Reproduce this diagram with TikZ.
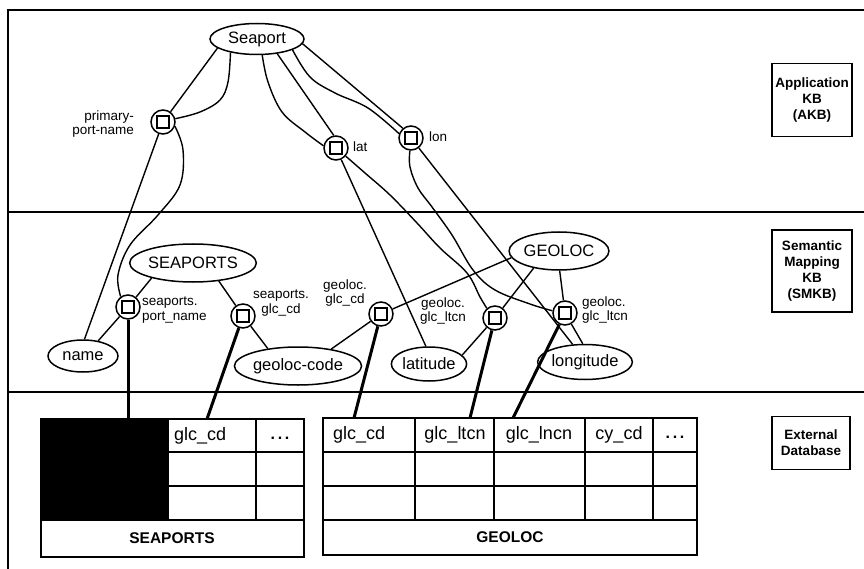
\documentclass[tikz,border=0pt]{standalone}
\usepackage{fontspec}
\setmainfont{Liberation Sans}
\usetikzlibrary{shapes.geometric,calc}
\begin{document}
\begin{tikzpicture}[x=1pt,y=-1pt,
  ent/.style={ellipse,draw,line width=1.5pt,inner sep=0pt,font=\fontsize{16.5}{18}\selectfont},
  junc/.style={circle,draw,line width=1.5pt,minimum size=24pt,inner sep=0pt,
    path picture={\draw[line width=1.5pt] ([shift={(-6pt,-6pt)}]path picture bounding box.center) rectangle ([shift={(6pt,6pt)}]path picture bounding box.center);}},
  lbl/.style={inner sep=0pt,font=\fontsize{13.5}{14.5}\selectfont},
  conn/.style={line width=1.4pt},
  dbl/.style={line width=3pt},
  frame/.style={line width=2.4pt},
  tout/.style={line width=2.6pt},
  tin/.style={line width=1.6pt},
  tthick/.style={line width=2.4pt},
  ttxt/.style={inner sep=0pt,font=\fontsize{18}{20}\selectfont},
  tdots/.style={inner sep=0pt,font=\fontsize{16}{18}\selectfont\bfseries},
  tname/.style={inner sep=0pt,font=\fontsize{15.5}{18}\selectfont\bfseries},
  side/.style={draw,line width=1.2pt,inner sep=0pt,align=center,font=\fontsize{13.5}{16}\selectfont\bfseries}
]
\useasboundingbox (0,0) rectangle (864,569);
% frame and layer dividers
\draw[frame] (864,10) -- (8,10) -- (8,569);
\draw[frame] (8,212) -- (864,212);
\draw[frame] (8,392) -- (864,392);

% side labels
\node[side,minimum width=80pt,minimum height=73pt] (akb) at (812,100) {Application\\KB\\(AKB)};
\node[side,minimum width=80pt,minimum height=82pt] (smkb) at (812,271) {Semantic\\Mapping\\KB\\(SMKB)};
\node[side,minimum width=78pt,minimum height=53pt] (extdb) at (811,443) {External\\Database};

% AKB
\node[ent,minimum width=94pt,minimum height=31pt] (seaport) at (257,39) {Seaport};
\node[junc] (ppn) at (163,122) {};
\node[junc] (lat) at (336,148) {};
\node[junc] (lon) at (411,138) {};
\node[lbl,align=right,anchor=east] (ppnl) at (134,124) {primary-\\port-name};
\node[lbl,anchor=west] (latl) at (353,147) {lat};
\node[lbl,anchor=west] (lonl) at (429,137) {lon};

% SMKB
\node[ent,minimum width=98pt,minimum height=38pt] (SEAPORTS) at (193,263) {SEAPORTS};
\node[ent,minimum width=70pt,minimum height=32pt] (name) at (83,356) {name};
\node[ent,minimum width=124pt,minimum height=38pt] (gcode) at (298,366) {geoloc-code};
\node[ent,minimum width=74pt,minimum height=34pt] (latitude) at (429,364) {latitude};
\node[ent,minimum width=80pt,minimum height=35pt] (longitude) at (585,362) {longitude};
\node[ent,minimum width=88pt,minimum height=38pt] (GEOLOC) at (559,251) {GEOLOC};
\node[junc] (spn) at (128,307) {};
\node[junc] (sgc) at (243,316) {};
\node[junc] (ggc) at (381,314) {};
\node[junc] (gltcn) at (495,318) {};
\node[junc] (glncn) at (565,313) {};
\node[lbl,align=left,anchor=west] (spnl) at (142,310) {seaports.\\port\_name};
\node[lbl,align=center] (sgcl) at (281,303) {seaports.\\glc\_cd};
\node[lbl,align=center] (ggcl) at (345,293) {geoloc.\\glc\_cd};
\node[lbl,align=center] (gltcnl) at (443,311) {geoloc.\\glc\_ltcn};
\node[lbl,align=left,anchor=west] (glncnl) at (582,310) {geoloc.\\glc\_ltcn};

% AKB connectors
\draw[conn] (seaport.193) -- (ppn);
\draw[conn] plot[smooth,tension=0.6] coordinates {(seaport.207) (228,82) (220,100) (200,112) (ppn.15)};
\draw[conn] plot[smooth,tension=0.6] coordinates {(seaport.-72) (268,82) (282,112) (305,132) (lat.170)};
\draw[conn] (seaport.-36) -- (lat.100);
\draw[conn] plot[smooth,tension=0.6] coordinates {(seaport.-17) (310,77) (335,93) (368,108) (lon.160)};
\draw[conn] (seaport.-6) -- (lon.130);
% AKB to SMKB
\draw[conn] (ppn) -- (name.85);
\draw[conn] plot[smooth,tension=0.6] coordinates {(ppn.-20) (183,150) (180,185) (158,215) (130,245) (118,275) (spn.125)};
\draw[conn] (lat) -- (latitude.100);
\draw[conn] plot[smooth,tension=0.6] coordinates {(lat.-40) (365,173) (390,195) (417,223) (440,248) (467,273) (480,297) (gltcn.130)};
\draw[conn] plot[smooth,tension=0.6] coordinates {(lon.-95) (410,167) (418,188) (432,207) (452,235) (473,270) (495,290) (530,304) (glncn.170)};
\draw[conn] (lon) -- (longitude.125);

% SMKB connectors
\draw[conn] (SEAPORTS.200) -- (spn);
\draw[conn] (SEAPORTS.-35) -- (sgc);
\draw[conn] (spn) -- (name.45);
\draw[conn] (sgc) -- (gcode.150);
\draw[conn] (GEOLOC.188) -- (ggc);
\draw[conn] (ggc) -- (gcode.27);
\draw[conn] (GEOLOC.214) -- (gltcn);
\draw[conn] (gltcn) -- (latitude.15);
\draw[conn] (GEOLOC.-88) -- (glncn);
\draw[conn] (glncn) -- (longitude.97);

% SEAPORTS table
\node[fill=black,inner sep=0pt,minimum width=127pt,minimum height=101pt,anchor=north west] (blk) at (41,419) {};
\draw[tin] (256,419) -- (256,520);
\draw[tin] (168,486) -- (304,486);
\draw[tthick] (168,419) -- (168,520);
\draw[tthick] (168,452) -- (304,452);
\draw[tthick] (41,520) -- (304,520);
\draw[tout] (41,419) rectangle (304,557);
\node[ttxt,anchor=west] (sgch) at (174,436) {glc\_cd};
\node[tdots] (sdots) at (280,438) {.\,.\,.};
\node[tname] (sname) at (172,538) {SEAPORTS};

% GEOLOC table
\draw[tin] (415,452) -- (415,520);
\draw[tin] (494,452) -- (494,520);
\draw[tin] (585,452) -- (585,520);
\draw[tin] (653,452) -- (653,520);
\draw[tin] (323,486) -- (697,486);
\draw[tthick] (415,418) -- (415,452);
\draw[tthick] (494,418) -- (494,452);
\draw[tthick] (585,418) -- (585,452);
\draw[tthick] (653,418) -- (653,452);
\draw[tthick] (323,452) -- (697,452);
\draw[tthick] (323,520) -- (697,520);
\draw[tout] (323,418) rectangle (697,555);
\node[ttxt,anchor=west] (gch) at (333,435) {glc\_cd};
\node[ttxt] (glth) at (455,435) {glc\_ltcn};
\node[ttxt] (glnh) at (539,435) {glc\_lncn};
\node[ttxt] (cyh) at (619,435) {cy\_cd};
\node[tdots] (gdots) at (675,437) {.\,.\,.};
\node[tname] (gname) at (510,537) {GEOLOC};

% links to database columns
\coordinate (e2) at (207,419);
\coordinate (e3) at (354,418);
\coordinate (e4) at (470,418);
\coordinate (e5) at (513,418);
\draw[dbl] (spn) -- (spn |- blk.north);
\draw[dbl] (sgc) -- (e2);
\draw[dbl] (ggc) -- (e3);
\draw[dbl] (gltcn) -- (e4);
\draw[dbl] (glncn) -- (e5);
\end{tikzpicture}
\end{document}
